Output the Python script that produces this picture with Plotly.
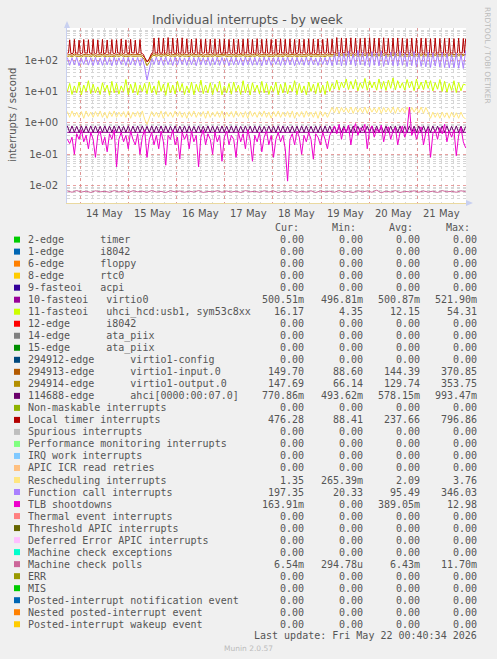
import pandas as pd
import plotly.graph_objects as go

# ---------------- data ----------------
START = "2026-05-13 17:40"
STEP = "70min"
LT_STEP = "35min"

local_timer = [
    165,168,440,162, 160,166,455,164, 168,163,430,166, 162,167,450,165, 170,164,445,168,
    165,162,460,167, 160,165,440,163, 168,166,455,161, 162,168,435,165, 166,163,450,167,
    160,165,445,168, 168,162,470,166, 162,167,440,164, 165,161,455,168, 170,166,430,163,
    163,168,450,165, 160,150,120,95, 88,92,110,140, 165,168,500,166, 170,164,510,167,
    168,165,495,163, 165,170,520,166, 170,163,500,168, 162,167,490,165, 168,164,510,166,
    165,168,475,162, 170,165,465,168, 163,166,480,164, 168,162,460,167, 166,169,470,163,
    170,165,465,168, 162,167,475,164, 168,163,460,166, 165,168,470,162, 170,165,455,167,
    164,168,470,163, 168,162,460,166, 162,167,465,164, 170,165,475,168, 165,162,455,166,
    168,164,480,167, 163,168,460,165, 170,163,470,167, 165,168,455,162, 168,166,465,164,
    162,167,475,165, 170,164,460,168, 165,162,470,166, 168,165,455,163, 163,168,465,166,
    170,165,460,167, 165,168,475,163, 168,162,465,166, 162,167,470,164, 170,165,460,168,
    165,169,480,166, 168,163,470,167, 170,166,520,164, 165,168,505,166, 172,167,495,169,
    168,165,510,170, 165,168,500,166, 170,164,490,168, 166,170,505,165, 168,166,515,169,
    172,166,495,168, 168,170,500,165, 165,168,510,167, 170,164,490,168, 168,166,500,165,
    165,169,505,167, 170,165,495,168, 168,163,480,166, 166,169,500,165, 170,167,490,168,
    165,168,500,166, 168,164,495,167, 170,166,480,165, 165,168,500,164, 168,166,485,167,
    170,165,490,168, 165,167,500,164, 168,165,480,166, 165,169,495,167, 170,166,485,168,
    476]

virtio1_input = [
    145,150,142,155,146,148,140,152,147,150,
    144,156,141,149,146,153,143,150,145,148,
    142,151,146,157,143,149,145,152,147,146,
    144,150,141,120,89,105,146,160,148,158,
    145,155,147,160,144,152,146,158,143,155,
    147,150,144,156,146,151,145,153,142,150,
    146,152,143,157,145,149,147,154,144,150,
    146,153,142,151,147,156,145,150,143,152,
    146,158,144,150,147,153,145,149,143,155,
    146,151,144,156,145,150,147,153,142,152,
    145,150,146,157,144,151,147,152,145,150,
    144,156,147,152,146,162,144,158,148,155,
    146,160,144,157,147,154,145,159,146,161,
    148,155,145,157,144,160,147,153,146,158,
    144,159,147,155,145,152,146,158,147,154,
    145,157,146,155,147,152,144,158,146,153,
    147,155,144,158,146,152,145,156,147,153,
    150]

virtio1_output = [
    128,135,126,138,130,132,125,136,131,134,
    127,139,125,133,130,137,127,134,129,132,
    126,135,130,140,127,133,129,136,131,130,
    128,134,125,100,66,85,130,142,132,140,
    129,138,131,142,128,136,130,140,127,138,
    131,134,128,139,130,135,129,137,126,134,
    130,136,127,140,129,133,131,138,128,134,
    130,137,126,135,131,139,129,134,127,136,
    130,141,128,134,131,137,129,133,127,138,
    130,135,128,139,129,134,131,137,126,136,
    129,134,130,140,128,135,131,136,129,134,
    128,139,131,136,130,145,128,141,132,138,
    130,143,128,140,131,137,129,142,130,144,
    132,138,129,140,128,143,131,136,130,141,
    128,142,131,138,129,135,130,141,131,137,
    129,140,130,138,131,135,128,141,130,136,
    131,138,128,141,130,135,129,139,131,136,
    148]

function_call = [
    120,68,118,70,122,66,115,72,125,69,
    118,67,121,71,116,68,124,70,119,66,
    122,69,117,72,120,67,123,70,118,68,
    121,66,115,60,23,50,110,72,125,70,
    122,68,126,71,119,67,124,69,121,72,
    117,68,123,70,120,66,125,71,118,69,
    122,67,119,70,124,68,120,72,117,66,
    123,69,121,70,118,67,125,71,120,68,
    122,69,119,66,124,70,121,68,118,72,
    123,67,120,69,125,70,119,66,122,71,
    118,68,124,69,121,70,117,67,123,72,
    120,69,125,66,150,70,180,65,165,68,
    190,72,155,64,200,70,175,66,160,62,
    185,68,170,65,195,63,150,70,180,66,
    170,64,190,68,160,62,175,66,185,60,
    165,63,150,61,180,58,170,64,155,60,
    175,58,160,56,150,57,165,55,150,54,
    197]

fasteoi11 = [
    10,18,8,15,9,20,7.8,16,10,22,
    8.5,17,9,14,8,19,10,16,7.6,21,
    9,18,8.2,15,10,24,8,17,9,19,
    7.7,16,10,18,8.4,20,9,15,8,22,
    10,17,7.5,19,9,16,8.3,21,10,18,
    8,15,9,20,7.9,17,10,23,8.5,16,
    9,19,8,17,10,21,7.8,15,9,18,
    8.2,20,10,16,8,22,9,17,7.7,19,
    10,16,8.4,21,9,18,8,15,10,20,
    7.9,17,9,19,8.3,16,10,22,8,18,
    9,15,7.8,20,10,17,8.5,19,9,16,
    8,21,10,18,12,23,11,20,13,25,
    11.5,21,12,24,10.5,19,12.5,26,11,22,
    13,20,11,25,12,21,10.8,23,12.6,27,
    11.2,22,12.8,19,11,24,13,21,10.6,25,
    12,20,11.4,23,12.5,22,10.4,19,11.8,24,
    10,21,9.5,18,10.8,22,9.2,19,10.5,17,
    16.17]

rescheduling = [
    2.3,1.5,2.4,1.6,2.2,1.5,2.3,1.4,2.4,1.6,
    2.2,1.5,2.3,1.6,2.4,1.5,2.2,1.4,2.3,1.6,
    2.4,1.5,2.2,1.6,2.3,1.5,2.4,1.4,2.2,1.6,
    2.3,1.5,2.4,1.3,0.9,1.4,2.3,1.6,2.2,1.5,
    2.4,1.4,2.3,1.6,2.2,1.5,2.4,1.6,2.3,1.5,
    2.2,1.4,2.3,1.6,2.4,1.5,2.2,1.6,2.3,1.4,
    2.4,1.5,2.2,1.6,2.3,1.5,2.4,1.4,2.2,1.6,
    2.3,1.5,2.4,1.6,2.2,1.5,2.3,1.4,2.4,1.6,
    2.2,1.5,2.3,1.6,2.4,1.5,2.2,1.4,2.3,1.6,
    2.4,1.5,2.2,1.6,2.3,1.5,2.4,1.4,2.2,1.6,
    2.3,1.5,2.4,1.6,2.2,1.5,2.3,1.4,2.4,1.6,
    2.2,1.5,2.3,3.1,2.1,3.2,2.0,3.1,2.2,3.0,
    2.1,3.2,2.0,3.1,2.2,3.0,2.1,3.2,2.0,3.1,
    2.2,3.0,2.1,3.2,2.0,3.1,2.2,3.0,2.1,3.2,
    2.0,3.1,2.2,3.0,2.1,3.2,2.0,3.1,2.2,3.0,
    2.1,3.2,2.0,3.1,2.2,1.4,2.2,1.5,2.1,1.4,
    2.2,1.5,2.1,1.4,2.2,1.5,2.1,1.4,2.2,1.5,
    1.35]

ahci_114688 = [
    0.8,0.5,0.8,0.5,0.78,0.5,0.8,0.5,0.79,0.5,
    0.8,0.5,0.8,0.5,0.78,0.5,0.8,0.5,0.79,0.5,
    0.8,0.5,0.8,0.5,0.78,0.5,0.8,0.5,0.79,0.5,
    0.8,0.5,0.8,0.5,0.78,0.5,0.8,0.5,0.79,0.5,
    0.8,0.5,0.8,0.5,0.78,0.5,0.8,0.5,0.79,0.5,
    0.8,0.5,0.8,0.5,0.78,0.5,0.8,0.5,0.79,0.5,
    0.8,0.5,0.8,0.5,0.78,0.5,0.8,0.5,0.79,0.5,
    0.8,0.5,0.8,0.5,0.78,0.5,0.8,0.5,0.79,0.5,
    0.8,0.5,0.8,0.5,0.78,0.5,0.8,0.5,0.79,0.5,
    0.8,0.5,0.8,0.5,0.78,0.5,0.8,0.5,0.79,0.5,
    0.8,0.5,0.8,0.5,0.78,0.5,0.8,0.5,0.79,0.5,
    0.8,0.5,0.8,0.5,0.78,0.5,0.8,0.5,0.79,0.5,
    0.8,0.5,0.8,0.5,0.78,0.5,0.8,0.5,0.79,0.5,
    0.8,0.5,0.8,0.5,0.78,0.5,0.8,0.5,0.79,0.5,
    0.8,0.5,0.8,0.5,0.78,0.5,0.8,0.5,0.79,0.5,
    0.8,0.5,0.8,0.5,0.78,0.5,0.8,0.5,0.79,0.5,
    0.8,0.5,0.8,0.5,0.78,0.5,0.8,0.5,0.79,0.5,
    0.77]

tlb_shootdowns = [
    0.3,0.22,0.35,0.1,0.45,0.3,0.6,0.25,0.4,0.15,
    0.5,0.3,0.08,0.4,0.55,0.2,0.35,0.12,0.45,0.3,
    0.6,0.04,0.3,0.5,0.25,0.4,0.15,0.55,0.3,0.2,
    0.45,0.1,0.35,0.6,0.08,0.3,0.5,0.2,0.4,0.15,
    0.55,0.25,0.045,0.4,0.3,0.6,0.2,0.35,0.07,0.5,
    0.3,0.45,0.15,0.55,0.25,0.4,0.04,0.35,0.6,0.2,
    0.45,0.3,0.1,0.5,0.25,0.4,0.06,0.35,0.55,0.2,
    0.4,0.3,0.08,0.5,0.25,0.45,0.15,0.6,0.3,0.06,
    0.4,0.25,0.5,0.12,0.35,0.55,0.2,0.4,0.08,0.3,
    0.5,0.25,0.4,0.15,0.014,0.3,0.45,0.2,0.55,0.35,
    0.1,0.4,0.25,0.5,0.3,0.07,0.45,0.35,0.2,0.5,
    0.3,0.15,0.4,0.6,0.8,0.45,0.9,0.3,0.7,0.5,
    0.85,0.2,0.6,0.95,0.4,0.7,0.55,0.9,0.15,0.6,
    0.8,0.35,0.65,0.5,0.85,0.25,0.6,0.75,0.3,0.55,
    0.7,0.2,0.5,0.8,0.35,0.6,3.2,0.4,0.65,0.3,
    0.55,0.75,0.2,0.5,0.65,0.08,0.45,0.6,0.3,0.7,
    0.45,0.9,0.25,0.55,0.35,0.6,0.09,0.4,0.7,0.25,
    0.16]

# coarser series
MCP_STEP = "140min"
machine_check_polls = [
    0.0068,0.0062,0.0070,0.0063,0.0067,0.0061,0.0069,0.0064,0.0066,0.0062,
    0.0070,0.0063,0.0068,0.0061,0.0069,0.0064,0.0067,0.0062,0.0070,0.0063,
    0.0066,0.0061,0.0069,0.0064,0.0068,0.0062,0.0067,0.0063,0.0070,0.0061,
    0.0066,0.0064,0.0069,0.0062,0.0068,0.0063,0.0067,0.0061,0.0070,0.0064,
    0.0066,0.0062,0.0069,0.0063,0.0068,0.0061,0.0067,0.0064,0.0070,0.0062,
    0.0066,0.0063,0.0069,0.0061,0.0068,0.0064,0.0067,0.0062,0.0070,0.0063,
    0.0066,0.0061,0.0069,0.0064,0.0068,0.0062,0.0072,0.0060,0.0067,0.0063,
    0.0070,0.0061,0.0066,0.0064,0.0069,0.0062,0.0068,0.0063,0.0067,0.0061,
    0.0070,0.0064,0.0066,0.0062,0.0069,0.0065]
V0_STEP = "12h"
virtio0 = [0.50,0.50,0.501,0.50,0.50,0.50,0.50,0.501,0.50,0.50,0.50,0.50,0.50,0.501,0.50,0.50,0.50,0.50]

# legend table
leg_labels = [
    "2-edge      timer", "1-edge      i8042", "6-edge      floppy", "8-edge      rtc0",
    "9-fasteoi   acpi", "10-fasteoi   virtio0", "11-fasteoi   uhci_hcd:usb1, sym53c8xx",
    "12-edge      i8042", "14-edge      ata_piix", "15-edge      ata_piix",
    "294912-edge      virtio1-config", "294913-edge      virtio1-input.0",
    "294914-edge      virtio1-output.0", "114688-edge      ahci[0000:00:07.0]",
    "Non-maskable interrupts", "Local timer interrupts", "Spurious interrupts",
    "Performance monitoring interrupts", "IRQ work interrupts", "APIC ICR read retries",
    "Rescheduling interrupts", "Function call interrupts", "TLB shootdowns",
    "Thermal event interrupts", "Threshold APIC interrupts", "Deferred Error APIC interrupts",
    "Machine check exceptions", "Machine check polls", "ERR", "MIS",
    "Posted-interrupt notification event", "Nested posted-interrupt event",
    "Posted-interrupt wakeup event"]
leg_colors = [
    "#00CC00", "#0066B3", "#FF8000", "#FFCC00", "#330099", "#990099", "#CCFF00",
    "#FF0000", "#808080", "#008F00", "#00487D", "#B35A00", "#B38F00", "#6B006B",
    "#8FB300", "#B30000", "#BEBEBE", "#80FF80", "#80C9FF", "#FFC080", "#FFE680",
    "#AA80FF", "#EE00CC", "#FF8080", "#666600", "#FFBFFF", "#00FFCC", "#CC6699",
    "#999900", "#00CC00", "#0066B3", "#FF8000", "#FFCC00"]
Z = "0.00"
leg_cur = [Z, Z, Z, Z, Z, "500.51m", "16.17", Z, Z, Z, Z, "149.70", "147.69", "770.86m",
           Z, "476.28", Z, Z, Z, Z, "1.35", "197.35", "163.91m", Z, Z, Z, Z, "6.54m",
           Z, Z, Z, Z, Z]
leg_min = [Z, Z, Z, Z, Z, "496.81m", "4.35", Z, Z, Z, Z, "88.60", "66.14", "493.62m",
           Z, "88.41", Z, Z, Z, Z, "265.39m", "20.33", Z, Z, Z, Z, Z, "294.78u",
           Z, Z, Z, Z, Z]
leg_avg = [Z, Z, Z, Z, Z, "500.87m", "12.15", Z, Z, Z, Z, "144.39", "129.74", "578.15m",
           Z, "237.66", Z, Z, Z, Z, "2.09", "95.49", "389.05m", Z, Z, Z, Z, "6.43m",
           Z, Z, Z, Z, Z]
leg_max = [Z, Z, Z, Z, Z, "521.90m", "54.31", Z, Z, Z, Z, "370.85", "353.75", "993.47m",
           Z, "796.86", Z, Z, Z, Z, "3.76", "346.03", "12.98", Z, Z, Z, Z, "11.70m",
           Z, Z, Z, Z, Z]

y_tick_vals = [0.01, 0.1, 1, 10, 100]
y_tick_text = ["1e-02", "1e-01", "1e+00", "1e+01", "1e+02"]
day_labels = ["14 May", "15 May", "16 May", "17 May", "18 May", "19 May", "20 May", "21 May"]
day_noons = ["2026-05-%02d 12:00" % d for d in range(14, 22)]
midnights = ["2026-05-%02d" % d for d in range(14, 23)]

# ---------------- geometry ----------------
W, H = 497, 659
PX0, PX1, PY0, PY1 = 67, 466, 28, 203

def xp(px):
    return (px - PX0) / (PX1 - PX0)

def yp(py):
    return (PY1 - py) / (PY1 - PY0)

TXT = "#555555"
MONO = "DejaVu Sans Mono"
SANS = "DejaVu Sans"

fig = go.Figure()

def add_series(values, step, color, name):
    t = pd.date_range(START, periods=len(values), freq=step)
    fig.add_trace(go.Scatter(x=t, y=values, mode="lines", name=name,
                             line=dict(color=color, width=1), hoverinfo="skip"))

add_series(virtio0, V0_STEP, "#990099", "10-fasteoi")
add_series(fasteoi11, STEP, "#CCFF00", "11-fasteoi")
add_series(virtio1_input, STEP, "#B35A00", "294913-edge")
add_series(virtio1_output, STEP, "#B38F00", "294914-edge")
add_series(ahci_114688, STEP, "#6B006B", "114688-edge")
add_series(local_timer, LT_STEP, "#B30000", "Local timer")
add_series(rescheduling, STEP, "#FFE680", "Rescheduling")
add_series(function_call, STEP, "#AA80FF", "Function call")
add_series(tlb_shootdowns, STEP, "#EE00CC", "TLB")
add_series(machine_check_polls, MCP_STEP, "#CC6699", "MC polls")

annotations = []
shapes = []

def ann(text, px, py, font, xanchor="center", yanchor="middle", angle=0, xref="paper", x=None):
    annotations.append(dict(text=text, x=(xp(px) if x is None else x), y=yp(py),
                            xref=xref, yref="paper", showarrow=False,
                            xanchor=xanchor, yanchor=yanchor, textangle=angle,
                            borderpad=0, font=font))

F_TITLE = dict(family=SANS, size=12.5, color=TXT)
F_AX = dict(family=SANS, size=10, color=TXT)
F_MONO = dict(family=MONO, size=10, color=TXT)
F_SMALL = dict(family=SANS, size=7.5, color="#BBBBBB")

ann("Individual interrupts - by week", 248, 19, F_TITLE)
ann("interrupts / second", 12, 115, F_AX, angle=-90)
ann("RRDTOOL / TOBI OETIKER", 487, 55, F_SMALL, angle=90)
ann("Munin 2.0.57", 248, 648, F_SMALL)

for lab, t in zip(day_labels, day_noons):
    ann(lab, 0, 213, F_AX, xref="x", x=t)

# legend table
NB = "\u00a0"
ROW0, PITCH = 239.6, 12.02
for txt, px in [("Cur:", 300), ("Min:", 357), ("Avg:", 414), ("Max:", 471)]:
    ann(txt, px, 227.5, F_MONO, xanchor="right")
cols = [(leg_cur, 305), (leg_min, 364), (leg_avg, 421), (leg_max, 478)]
for i, lab in enumerate(leg_labels):
    yy = ROW0 + i * PITCH
    shapes.append(dict(type="rect", xref="paper", yref="paper",
                       x0=xp(14), x1=xp(20), y0=yp(yy - 3), y1=yp(yy + 3),
                       fillcolor=leg_colors[i], line=dict(width=0)))
    ann(lab.replace(" ", NB), 26.5, yy, F_MONO, xanchor="left")
    for vals, px in cols:
        ann(vals[i], px, yy, F_MONO, xanchor="right")
ann("Last update: Fri May 22 00:40:34 2026".replace(" ", NB), 478, 635.5, F_MONO, xanchor="right")

# axis arrows
AX = "#C8D0F0"
shapes.append(dict(type="path", xref="paper", yref="paper",
                   path="M %f,%f L %f,%f L %f,%f Z" % (xp(64), yp(28), xp(70), yp(28), xp(67), yp(21)),
                   fillcolor=AX, line=dict(width=0)))
shapes.append(dict(type="path", xref="paper", yref="paper",
                   path="M %f,%f L %f,%f L %f,%f Z" % (xp(466), yp(200), xp(466), yp(206), xp(473), yp(203)),
                   fillcolor=AX, line=dict(width=0)))

minor_y = [k * 10.0 ** e for e in range(-3, 3) for k in range(2, 10)]

fig.update_layout(
    width=W, height=H,
    margin=dict(l=PX0, r=W - PX1, t=PY0, b=H - PY1, pad=0),
    paper_bgcolor="#F0F0F0", plot_bgcolor="#FFFFFF",
    showlegend=False,
    annotations=annotations, shapes=shapes,
    xaxis=dict(type="date", range=["2026-05-13 17:30", "2026-05-22 00:10"],
               tickmode="array", tickvals=midnights, showticklabels=False, ticks="",
               showgrid=True, gridcolor="rgba(225,130,130,0.75)", griddash="dot", gridwidth=1,
               minor=dict(dtick=6 * 3600 * 1000, tick0="2026-05-13", showgrid=True,
                          gridcolor="#D6D6D6", griddash="dot", gridwidth=1, ticks=""),
               showline=True, linecolor="#EAD9A0", linewidth=1, zeroline=False, fixedrange=True),
    yaxis=dict(type="log", range=[-2.55, 3.02], tickmode="array",
               tickvals=y_tick_vals, ticktext=y_tick_text, ticks="",
               tickfont=F_AX, ticklabelstandoff=6,
               showgrid=True, gridcolor="rgba(225,130,130,0.75)", griddash="dot", gridwidth=1,
               minor=dict(tickvals=minor_y, showgrid=True, gridcolor="#D6D6D6",
                          griddash="dot", gridwidth=1, ticks=""),
               showline=True, linecolor=AX, linewidth=1, zeroline=False, fixedrange=True),
)

fig.write_html("out.html", config={"displayModeBar": False},
               post_script="document.body.style.margin='0';"
                           "document.body.style.background='#F0F0F0';")
